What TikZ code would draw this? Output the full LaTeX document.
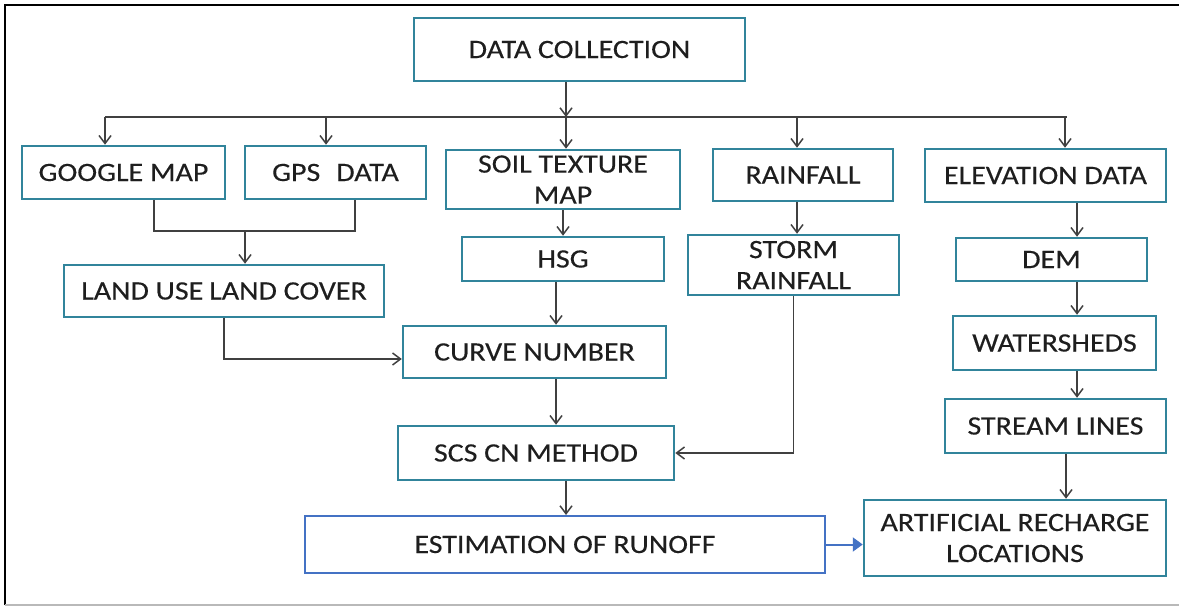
\documentclass[tikz,border=0pt]{standalone}
\usepackage{fontspec}
\setmainfont{Carlito}[FakeStretch=1.13,FakeBold=0.3]
\usetikzlibrary{arrows.meta}
\definecolor{boxteal}{HTML}{31849B}
\definecolor{boxblue}{HTML}{4472C4}
\definecolor{linegray}{HTML}{404040}
\definecolor{txtgray}{HTML}{1E1E1E}
\begin{document}
\begin{tikzpicture}[x=1pt,y=-1pt,
  box/.style={draw=boxteal, line width=2.5pt, fill=white, inner sep=0pt,
    text=txtgray, align=center, font=\fontsize{26.5}{31}\selectfont},
  bluebox/.style={box, draw=boxblue, line width=2pt},
  ln/.style={draw=linegray, line width=1.5pt},
  arr/.style={ln, -{Straight Barb[length=8pt,width=12pt]}},
  barr/.style={draw=boxblue, line width=2pt, -{Triangle[length=10pt,width=14pt]}}]
\useasboundingbox (0,0) rectangle (1179,607);
% frame
\draw[black, line width=2pt] (5,605) -- (5,5) -- (1179,5);
\draw[gray!55, line width=1.5pt] (5,605) -- (1179,605);

% nodes
\node[box, minimum width=331pt, minimum height=63pt] (dc) at (579.5,49.5) {DATA COLLECTION};
\node[box, minimum width=203pt, minimum height=53pt] (gm) at (123.5,172.5) {GOOGLE MAP};
\node[box, minimum width=181pt, minimum height=53pt] (gps) at (335.5,172.5) {GPS\hspace{16pt}DATA};
\node[box, minimum width=234pt, minimum height=59pt] (soil) at (563,179.5) {SOIL TEXTURE\\MAP};
\node[box, minimum width=180pt, minimum height=52pt] (rain) at (803,175) {RAINFALL};
\node[box, minimum width=241pt, minimum height=53pt] (elev) at (1045.5,175.5) {ELEVATION DATA};
\node[box, minimum width=320pt, minimum height=52pt] (lulc) at (224,291) {LAND USE\hspace{6pt}LAND COVER};
\node[box, minimum width=202pt, minimum height=44pt] (hsg) at (563,259) {HSG};
\node[box, minimum width=211pt, minimum height=60pt] (storm) at (793.5,265) {STORM\\RAINFALL};
\node[box, minimum width=191pt, minimum height=43pt] (dem) at (1051.5,259.5) {DEM};
\node[box, minimum width=263pt, minimum height=52pt] (cn) at (534.5,352) {CURVE NUMBER};
\node[box, minimum width=203pt, minimum height=54pt] (ws) at (1054.5,343) {WATERSHEDS};
\node[box, minimum width=276pt, minimum height=54pt] (scs) at (536,453) {SCS CN METHOD};
\node[box, minimum width=221pt, minimum height=54pt] (sl) at (1055.5,426) {STREAM LINES};
\node[bluebox, minimum width=520pt, minimum height=57pt] (est) at (565,544.5) {ESTIMATION OF RUNOFF};
\node[box, minimum width=302pt, minimum height=76pt] (arl) at (1015,538) {ARTIFICIAL RECHARGE\\LOCATIONS};

% helper coordinates
\coordinate (b1) at (105,117);
\coordinate (b2) at (326,117);
\coordinate (b3) at (566,117);
\coordinate (b4) at (797,117);
\coordinate (b5) at (1065,117);
\coordinate (bend) at (1067,117);
\coordinate (j1) at (154,231);
\coordinate (j2) at (355,231);
\coordinate (j) at (245,231);
\coordinate (x556) at (556,0);
\coordinate (x566) at (566,0);
\coordinate (x1077) at (1077,0);
\coordinate (x1066) at (1066,0);
\coordinate (y359) at (0,359);

% connectors
\draw[arr] (dc.south -| b3) -- (b3);
\draw[ln] (b1) -- (bend);
\draw[arr] (b1) -- (b1 |- gm.north);
\draw[arr] (b2) -- (b2 |- gps.north);
\draw[arr] (b3) -- (b3 |- soil.north);
\draw[arr] (b4) -- (b4 |- rain.north);
\draw[arr] (b5) -- (b5 |- elev.north);

\draw[ln] (gm.south -| j1) -- (j1) -- (j2) -- (gps.south -| j2);
\draw[arr] (j) -- (j |- lulc.north);

\draw[arr] (soil.south) -- (hsg.north);
\draw[arr] (hsg.south -| x556) -- (cn.north -| x556);
\draw[arr] (lulc.south) |- (cn.west |- y359);
\draw[arr] (rain.south -| b4) -- (storm.north -| b4);
\draw[arr] (cn.south -| x556) -- (scs.north -| x556);
\draw[arr] (storm.south) |- (scs.east);
\draw[arr] (scs.south -| x566) -- (est.north -| x566);

\draw[arr] (elev.south -| x1077) -- (dem.north -| x1077);
\draw[arr] (dem.south -| x1077) -- (ws.north -| x1077);
\draw[arr] (ws.south -| x1077) -- (sl.north -| x1077);
\draw[arr] (sl.south -| x1066) -- (arl.north -| x1066);

\draw[barr] (est.east) -- (arl.west |- est.east);
\end{tikzpicture}
\end{document}
